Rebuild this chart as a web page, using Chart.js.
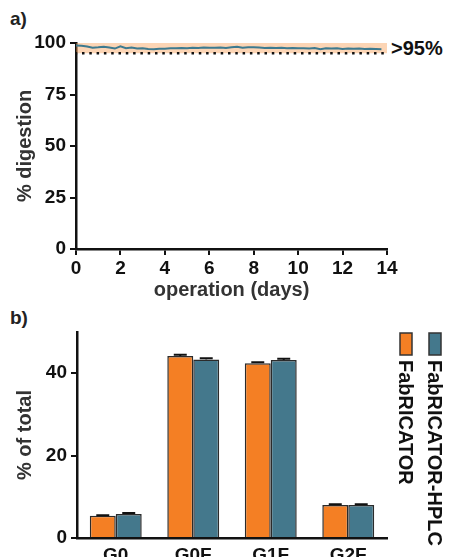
<!DOCTYPE html>
<html>
<head>
<meta charset="utf-8">
<script src="https://cdn.jsdelivr.net/npm/chart.js@4/dist/chart.umd.min.js"></script>
<style>
  html, body { margin: 0; padding: 0; background: #fff; overflow: hidden; }
  body { width: 451px; height: 557px; position: relative; font-family: "Liberation Sans", Arial, sans-serif; }
  canvas { position: absolute; left: 0; }
  #digestChart { top: 0; }
  #glycanChart { top: 300px; }
  .panel { position: absolute; font-weight: bold; font-size: 19px; color: #222; }
  .note { position: absolute; font-weight: bold; font-size: 20px; color: #111; }
</style>
</head>
<body>
<div class="panel" style="left:10px; top:8px;">a)</div>
<div class="panel" style="left:10px; top:307px;">b)</div>
<div class="note" style="left:391px; top:37px;">&gt;95%</div>
<canvas id="digestChart" width="451" height="305"></canvas>
<canvas id="glycanChart" width="451" height="280"></canvas>
<script>
// panel a: digestion over time
const days = [0, 0.25, 0.5, 0.75, 1, 1.25, 1.5, 1.75, 2, 2.25, 2.5, 2.75, 3, 3.25, 3.5, 3.75,
    4, 4.25, 4.5, 4.75, 5, 5.25, 5.5, 5.75, 6, 6.25, 6.5, 6.75, 7, 7.25, 7.5, 7.75,
    8, 8.25, 8.5, 8.75, 9, 9.25, 9.5, 9.75, 10, 10.25, 10.5, 10.75, 11, 11.25, 11.5, 11.75,
    12, 12.25, 12.5, 12.75, 13, 13.25, 13.5, 13.75];
const digestion = [98.8, 98.7, 98.3, 97.7, 97.9, 98.2, 97.8, 97.3, 98.4, 97.5, 97.8, 97.3, 97.5, 97.1, 97.0, 97.2,
    97.2, 97.4, 97.4, 97.6, 97.5, 97.7, 97.6, 97.8, 97.7, 97.7, 97.8, 97.6, 97.9, 98.2, 97.7, 97.9,
    97.9, 97.8, 97.6, 97.7, 97.6, 97.7, 97.5, 97.6, 97.4, 97.5, 97.3, 97.6, 97.0, 97.5, 97.3, 97.4,
    97.1, 97.3, 97.2, 97.3, 97.1, 97.2, 97.1, 97.0];
const bandLow = 95;
const bandHigh = 100;
const dayRange = [0, 14];

// panel b: glycan distribution
const glycans = ['G0', 'G0F', 'G1F', 'G2F'];
const fabricator = [5.4, 44.2, 42.4, 8.0];
const fabricatorErr = [0.15, 0.3, 0.25, 0.2];
const fabricatorHplc = [5.8, 43.3, 43.2, 8.0];
const fabricatorHplcErr = [0.25, 0.35, 0.3, 0.2];

const FONT = '"Liberation Sans", Arial, sans-serif';
const ORANGE = '#f47f24';
const TEAL = '#44788c';

function axisStyle(extra) {
    return Object.assign({
        border: { color: '#111', width: 2.5 },
        grid: { drawOnChartArea: false, color: '#111', lineWidth: 2, tickLength: 6 },
        ticks: { color: '#111', font: { family: FONT, size: 19, weight: 'bold' } }
    }, extra);
}

const titleFont = { family: FONT, size: 20, weight: 'bold' };

new Chart(document.getElementById('digestChart').getContext('2d'), {
    type: 'line',
    data: {
        datasets: [
            {
                label: 'digestion',
                data: days.map((d, i) => ({ x: d, y: digestion[i] })),
                borderColor: '#3d7a8f',
                borderWidth: 2,
                pointRadius: 0,
                tension: 0,
                fill: false,
                order: 0
            },
            {
                label: 'threshold',
                data: dayRange.map(d => ({ x: d, y: bandLow })),
                borderColor: '#111',
                borderWidth: 2.5,
                borderDash: [2.5, 4.8],
                borderDashOffset: -6,
                pointRadius: 0,
                fill: false,
                order: 1
            },
            {
                label: 'band high',
                data: dayRange.map(d => ({ x: d, y: bandHigh })),
                borderWidth: 0,
                pointRadius: 0,
                backgroundColor: 'rgba(247, 150, 70, 0.4)',
                fill: '+1',
                order: 2
            },
            {
                label: 'band low',
                data: dayRange.map(d => ({ x: d, y: bandLow })),
                borderWidth: 0,
                pointRadius: 0,
                fill: false,
                order: 3
            }
        ]
    },
    options: {
        responsive: false,
        animation: false,
        layout: { padding: { top: 43, right: 64, left: 0, bottom: 0 } },
        plugins: { legend: { display: false }, tooltip: { enabled: false } },
        scales: {
            x: axisStyle({
                type: 'linear',
                min: 0,
                max: 14,
                afterFit: s => { s.height = 56; },
                ticks: { stepSize: 2, padding: 2, color: '#111', font: { family: FONT, size: 19, weight: 'bold' } },
                title: { display: true, text: 'operation (days)', color: '#333', font: titleFont, padding: { top: 0, bottom: 3 } }
            }),
            y: axisStyle({
                min: 0,
                max: 100,
                afterFit: s => { s.width = 76; },
                ticks: { stepSize: 25, padding: 4, color: '#111', font: { family: FONT, size: 19, weight: 'bold' } },
                title: { display: true, text: '% digestion', color: '#333', font: titleFont, padding: { top: 13, bottom: 0 } }
            })
        }
    }
});

// error bars on top of each bar
const errorBars = {
    id: 'errorBars',
    afterDatasetsDraw(chart) {
        const ctx = chart.ctx;
        const yScale = chart.scales.y;
        const errs = [fabricatorErr, fabricatorHplcErr];
        ctx.save();
        ctx.strokeStyle = '#111';
        ctx.lineWidth = 2;
        chart.data.datasets.forEach((ds, di) => {
            chart.getDatasetMeta(di).data.forEach((bar, i) => {
                const top = yScale.getPixelForValue(ds.data[i] + errs[di][i]);
                const cap = bar.width * 0.25;
                ctx.beginPath();
                ctx.moveTo(bar.x, bar.y);
                ctx.lineTo(bar.x, top);
                ctx.moveTo(bar.x - cap, top);
                ctx.lineTo(bar.x + cap, top);
                ctx.stroke();
            });
        });
        ctx.restore();
    }
};

// vertical legend on the right
const sideLegend = {
    id: 'sideLegend',
    afterDraw(chart) {
        const ctx = chart.ctx;
        const slots = [406, 435];
        ctx.save();
        chart.data.datasets.forEach((ds, i) => {
            const cx = slots[i];
            ctx.fillStyle = ds.backgroundColor;
            ctx.fillRect(cx - 6, 33, 12, 22);
            ctx.strokeStyle = '#333';
            ctx.lineWidth = 1.5;
            ctx.strokeRect(cx - 6, 33, 12, 22);
            ctx.save();
            ctx.translate(cx, 60);
            ctx.rotate(Math.PI / 2);
            ctx.fillStyle = '#111';
            ctx.font = 'bold 20px ' + FONT;
            ctx.textAlign = 'left';
            ctx.textBaseline = 'middle';
            ctx.fillText(ds.label, 0, 1);
            ctx.restore();
        });
        ctx.restore();
    }
};

new Chart(document.getElementById('glycanChart').getContext('2d'), {
    type: 'bar',
    data: {
        labels: glycans,
        datasets: [
            { label: 'FabRICATOR', data: fabricator, backgroundColor: ORANGE, borderColor: '#2b2b2b', borderWidth: 1.5 },
            { label: 'FabRICATOR-HPLC', data: fabricatorHplc, backgroundColor: TEAL, borderColor: '#2b2b2b', borderWidth: 1.5 }
        ]
    },
    options: {
        responsive: false,
        animation: false,
        layout: { padding: { top: 32, right: 64, left: 0, bottom: 0 } },
        datasets: { bar: { categoryPercentage: 0.67, barPercentage: 1.0 } },
        plugins: { legend: { display: false }, tooltip: { enabled: false } },
        scales: {
            x: axisStyle({
                afterFit: s => { s.height = 42; },
                grid: { display: false, tickLength: 0 },
                ticks: { padding: 6, color: '#111', font: { family: FONT, size: 19, weight: 'bold' } }
            }),
            y: axisStyle({
                min: 0,
                max: 50,
                afterFit: s => { s.width = 77; },
                ticks: { stepSize: 20, includeBounds: false, padding: 4, color: '#111', font: { family: FONT, size: 19, weight: 'bold' } },
                title: { display: true, text: '% of total', color: '#333', font: titleFont, padding: { top: 13, bottom: 0 } }
            })
        }
    },
    plugins: [errorBars, sideLegend]
});
</script>
</body>
</html>
